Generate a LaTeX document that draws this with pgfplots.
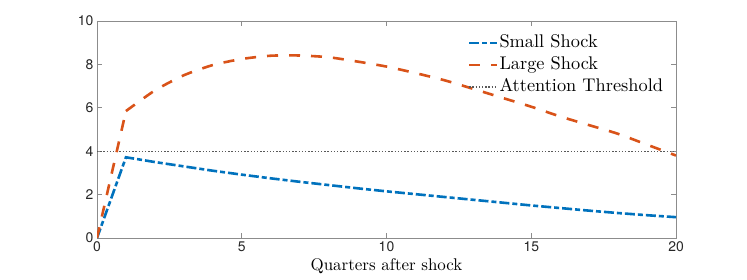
\documentclass[border=0pt]{standalone}
\usepackage{fontspec}
\usepackage{pgfplots}
\pgfplotsset{compat=1.18}
\newfontfamily\hv{TeX Gyre Heros}
\newfontfamily\lmr{lmroman10-regular}[Extension=.otf]
\definecolor{mblue}{RGB}{0,114,189}
\definecolor{morange}{RGB}{217,83,25}
\begin{document}
\begin{tikzpicture}
\begin{axis}[
  scale only axis, width=579bp, height=217bp,
  xmin=0, xmax=20, ymin=0, ymax=10,
  xtick={0,5,10,15,20}, ytick={0,2,4,6,8,10},
  axis line style={draw=black!45, line width=0.9bp},
  tick style={draw=black!45, line width=0.9bp},
  tick align=inside, major tick length=5bp,
  ticklabel style={font=\hv\fontsize{14}{16}\selectfont, text=black!85},
  /pgf/number format/assume math mode=true,
  xlabel={Quarters after shock},
  xlabel style={font=\lmr\fontsize{17}{20}\selectfont, inner sep=0pt, yshift=-3bp},
  legend style={draw=none, fill=none, at={(rel axis cs:0.985,0.955)}, anchor=north east,
    font=\lmr\fontsize{18.4}{21}\selectfont, row sep=2bp,
    nodes={inner sep=1bp, text height=14bp, text depth=4bp}},
  legend cell align=left,
  legend image code/.code={\draw[#1] (0bp,0bp) -- (28bp,0bp);},
]
\addplot[mblue, line width=2.6bp, dash pattern=on 10bp off 3bp on 5bp off 3bp] coordinates {
(0,0) (1,3.72) (2,3.50) (3,3.30) (4,3.10) (5,2.92) (6,2.75) (7,2.59) (8,2.44) (9,2.29) (10,2.15)
(11,2.02) (12,1.89) (13,1.76) (14,1.63) (15,1.50) (16,1.38) (17,1.26) (18,1.15) (19,1.05) (20,0.96)};
\addlegendentry{Small Shock}
\addplot[morange, line width=2.6bp, dash pattern=on 11bp off 11bp, smooth, tension=0.4] coordinates {
(1,5.85) (2,6.8) (3,7.5) (4,7.97) (5,8.25) (6,8.4) (7,8.41) (8,8.33) (9,8.13) (10,7.9)
(11,7.6) (12,7.27) (13,6.87) (14,6.46) (15,6.05) (16,5.6) (17,5.2) (18,4.8) (19,4.3) (20,3.8)};
\addlegendentry{Large Shock}
\addplot[black!65, line width=1.4bp, dash pattern=on 1.4bp off 1.8bp] coordinates {(0,4) (20,4)};
\addlegendentry{Attention Threshold}
\addplot[morange, line width=2.6bp, dash pattern=on 11bp off 11bp, forget plot] coordinates {(0,0) (1,5.85)};
\end{axis}
\path[use as bounding box] ([shift={(-97bp,-42bp)}]current axis.south west) rectangle ([shift={(71bp,21bp)}]current axis.north east);
\end{tikzpicture}
\end{document}
